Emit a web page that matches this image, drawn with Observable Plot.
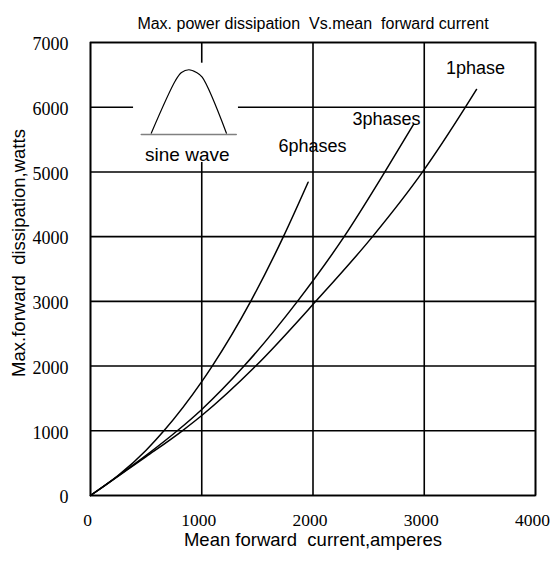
<!DOCTYPE html>
<html>
<head>
<meta charset="utf-8">
<script src="https://cdn.jsdelivr.net/npm/d3@7"></script>
<script src="https://cdn.jsdelivr.net/npm/@observablehq/plot@0.6"></script>
<style>
  html, body { margin: 0; padding: 0; background: #fff; }
  #chart svg { display: block; }
</style>
</head>
<body>
<div id="chart"></div>
<script>
// ---- data ----
const titleText = "Max. power dissipation  Vs.mean  forward current";
const xLabel = "Mean forward  current,amperes";
const yLabel = "Max.forward  dissipation,watts";

const xTicks = [0, 1000, 2000, 3000, 4000];
const yTicks = [0, 1000, 2000, 3000, 4000, 5000, 6000, 7000];

// mean forward current (A) and max dissipation (W)
const phase1I = [0, 250, 500, 825, 1000, 1485, 2025, 2535, 2985, 3370, 3470];
const phase1P = [0, 300, 600, 1000, 1236, 2000, 3000, 4000, 5000, 6000, 6275];

const phase3I = [0, 250, 500, 780, 1000, 1380, 1860, 2280, 2646, 2904];
const phase3P = [0, 305, 620, 1000, 1330, 2000, 3000, 4000, 5000, 5735];

const phase6I = [0, 250, 500, 660, 1000, 1094, 1440, 1734, 1956];
const phase6P = [0, 310, 700, 1000, 1760, 2000, 3000, 4000, 4840];

const seriesNames = ["1phase", "3phases", "6phases"];
const labelI = [3461, 2661, 1996];
const labelP = [6598, 5811, 5393];

// inset "sine wave" icon (data coordinates)
const insetBox = {x1: 387, x2: 1330, y1: 5146, y2: 6680};
const sineIconI = [546, 764, 818, 884, 953, 1004, 1222];
const sineIconP = [5599, 6413, 6537, 6579, 6537, 6464, 5599];
const sineBaseI = [456, 1310];
const sineBaseP = [5579, 5579];
const insetLabel = {text: "sine wave", x: 870, y: 5260};

// ---- build tables ----
const toRows = (I, P, name) => I.map((v, i) => ({I: v, P: P[i], series: name}));
const curves = [
  ...toRows(phase1I, phase1P, "1phase"),
  ...toRows(phase3I, phase3P, "3phases"),
  ...toRows(phase6I, phase6P, "6phases")
];
const labels = seriesNames.map((s, i) => ({text: s, I: labelI[i], P: labelP[i]}));
const sineIcon = sineIconI.map((v, i) => ({I: v, P: sineIconP[i]}));
const sineBase = sineBaseI.map((v, i) => ({I: v, P: sineBaseP[i]}));

const sans = "Liberation Sans, Arial, sans-serif";
const serif = "Liberation Serif, Times New Roman, serif";

const chart = Plot.plot({
  width: 551,
  height: 562,
  marginLeft: 90,
  marginRight: 16,
  marginTop: 42,
  marginBottom: 67,
  style: {background: "white", color: "black"},
  x: {domain: [0, 4000]},
  y: {domain: [0, 7000]},
  marks: [
    Plot.ruleX(xTicks, {stroke: "black", strokeWidth: 1.6}),
    Plot.ruleY(yTicks, {stroke: "black", strokeWidth: 1.6}),
    Plot.rect([insetBox], {x1: "x1", x2: "x2", y1: "y1", y2: "y2", fill: "white"}),
    Plot.frame({stroke: "black", strokeWidth: 1.6}),
    Plot.axisX(xTicks, {tickSize: 0, tickPadding: 18, fontSize: 17.5, fontFamily: serif, tickFormat: d => String(d), label: null, dx: -3}),
    Plot.axisY(yTicks, {tickSize: 0, tickPadding: 22, fontSize: 18, fontFamily: serif, tickFormat: d => String(d), label: null, dy: 2}),
    Plot.line(curves, {x: "I", y: "P", z: "series", stroke: "black", strokeWidth: 1.5, curve: "monotone-x"}),
    Plot.text(labels, {x: "I", y: "P", text: "text", fontSize: 18, fontFamily: sans, fill: "black"}),
    Plot.line(sineIcon, {x: "I", y: "P", stroke: "black", strokeWidth: 1.2, curve: "catmull-rom"}),
    Plot.line(sineBase, {x: "I", y: "P", stroke: "#808080", strokeWidth: 1.5}),
    Plot.text([insetLabel], {x: "x", y: "y", text: "text", fontSize: 19, fontFamily: sans, fill: "black"}),
    Plot.text([titleText], {frameAnchor: "top", dy: -25, text: d => d, fontSize: 16, fontFamily: sans, fill: "black"}),
    Plot.text([xLabel], {frameAnchor: "bottom", dy: 50, text: d => d, fontSize: 18.5, fontFamily: sans, fill: "black"}),
    Plot.text([yLabel], {frameAnchor: "left", textAnchor: "middle", dx: -71, dy: -16, rotate: -90, text: d => d, fontSize: 18.5, fontFamily: sans, fill: "black"})
  ]
});
document.getElementById("chart").appendChild(chart);
</script>
</body>
</html>
